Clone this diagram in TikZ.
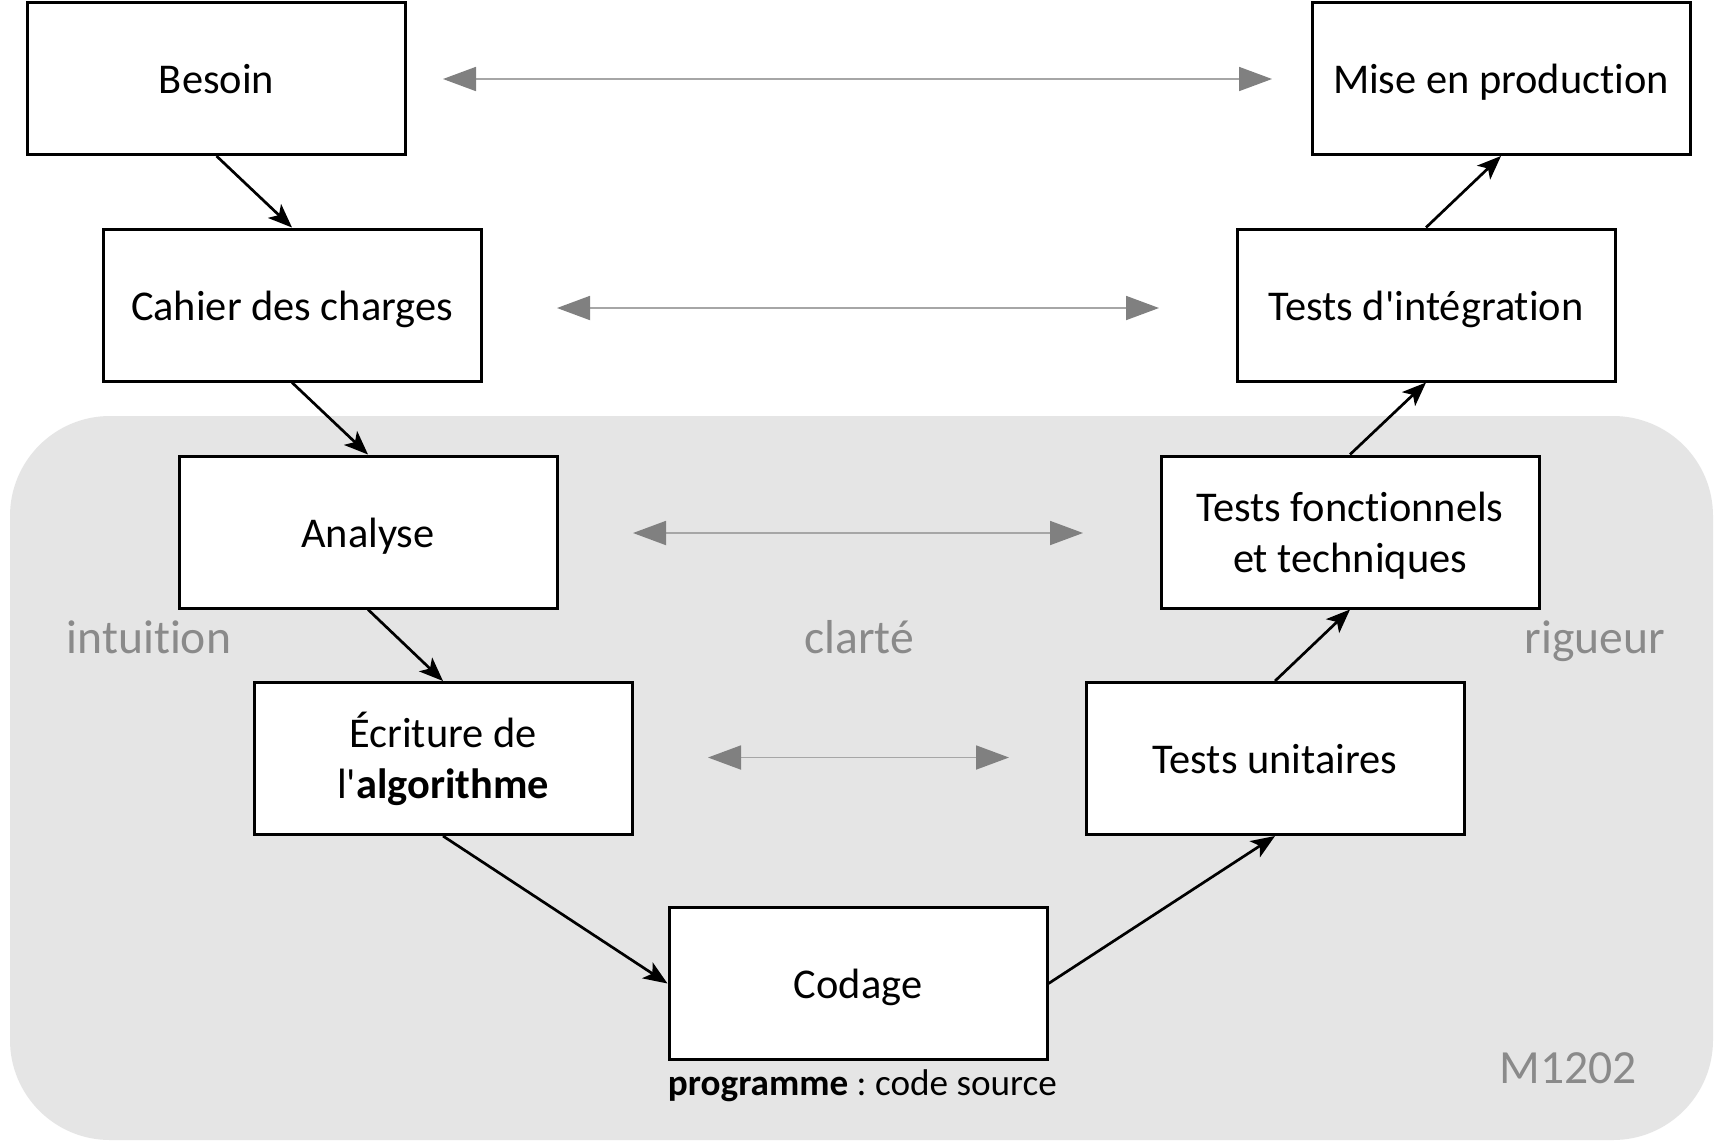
\documentclass[tikz,border=0pt]{standalone}
\usepackage{fontspec}
\setmainfont{Carlito}[Ligatures=NoCommon]
\usetikzlibrary{arrows.meta}
\definecolor{zone}{HTML}{E5E5E5}
\definecolor{softtext}{HTML}{8A8A8A}
\definecolor{linkline}{HTML}{A6A6A6}
\definecolor{linkhead}{HTML}{808080}
\newcommand{\q}{\textquotesingle}
\frenchspacing
\begin{document}
\begin{tikzpicture}[x=0.5pt,y=-0.5pt,
  stage/.style={draw=black, line width=1.5pt, fill=white, minimum width=189pt,
    minimum height=76pt, inner sep=0pt, align=center,
    font=\fontsize{21.2}{25.5}\selectfont},
  oneline/.style={stage, text height=17pt, text depth=2pt},
  twolines/.style={stage, text height=50pt, text depth=10pt},
  flow/.style={line width=1.35pt, -{Stealth[length=12pt,width=9.5pt,inset=3pt]}},
  pair/.style={draw=linkline, line width=0.9pt,
    {Triangle[length=16.5pt,width=12pt,color=linkhead]}-{Triangle[length=16.5pt,width=12pt,color=linkhead]}},
  hint/.style={text=softtext, anchor=base, inner sep=0pt,
    font=\fontsize{23.8}{28}\selectfont}
]
\useasboundingbox (0,0) rectangle (1719,1147);
\fill[white] (0,0) rectangle (1719,1147);

% shaded zone behind the lower part of the V
\fill[zone, rounded corners=50pt] (10,416) rectangle (1713,1140);

% left branch
\node[oneline]  (besoin)  at (216.5,78.5)  {Besoin};
\node[oneline]  (cahier)  at (292,305)     {Cahier des charges};
\node[oneline]  (analyse) at (368,532)     {Analyse};
\node[twolines] (algo)    at (443,758.5)   {Écriture de\\l\q\textbf{algorithme}};
% bottom
\node[oneline]  (codage)  at (858,983.5)   {Codage};
% right branch
\node[oneline]  (unit)    at (1275,758.5)  {Tests unitaires};
\node[twolines] (fonct)   at (1350,532)    {Tests fonctionnels\\et techniques};
\node[oneline]  (integ)   at (1426,305)    {Tests d\q intégration};
\node[oneline]  (prod)    at (1501,78.5)   {Mise en production};

% sequence of phases
\draw[flow] (besoin.south)  -- (cahier.north);
\draw[flow] (cahier.south)  -- (analyse.north);
\draw[flow] (analyse.south) -- (algo.north);
\draw[flow] (algo.south)    -- (codage.west);
\draw[flow] (codage.east)   -- (unit.south);
\draw[flow] (unit.north)    -- (fonct.south);
\draw[flow] (fonct.north)   -- (integ.south);
\draw[flow] (integ.north)   -- (prod.south);

% correspondences between both branches
\coordinate (a1) at (443,79);   \coordinate (b1) at (1272,79);
\coordinate (a2) at (557,308);  \coordinate (b2) at (1159,308);
\coordinate (a3) at (633,533);  \coordinate (b3) at (1083,533);
\coordinate (a4) at (708,757.5);\coordinate (b4) at (1009,757.5);
\draw[pair] (a1) -- (b1);
\draw[pair] (a2) -- (b2);
\draw[pair] (a3) -- (b3);
\draw[pair] (a4) -- (b4);

% annotations
\node[hint] (intuition) at (149,653) {intuition};
\node[hint] (clarte)    at (859,653) {clarté};
\node[hint] (rigueur)   at (1595,653) {rigueur};
\node[hint] (module)    at (1568,1083) {M1202};
\node[anchor=base west, inner sep=0pt, font=\fontsize{18.6}{22}\selectfont]
  (prog) at ([yshift=-17pt]codage.south west) {\textbf{programme} : code source};
\end{tikzpicture}
\end{document}
